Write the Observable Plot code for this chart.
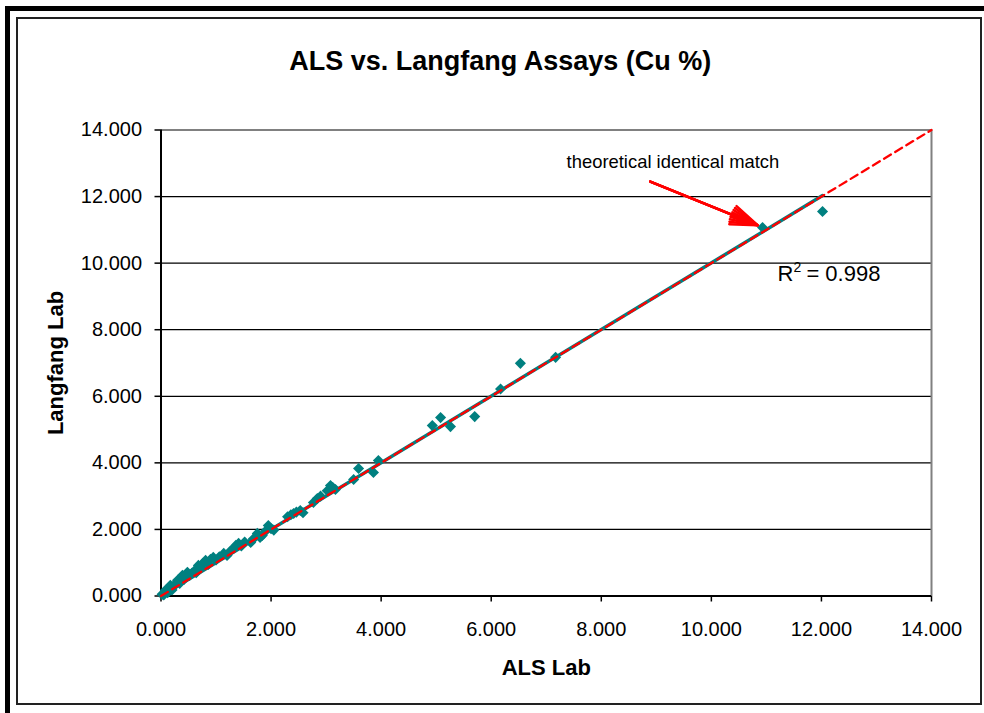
<!DOCTYPE html>
<html>
<head>
<meta charset="utf-8">
<script src="https://cdn.jsdelivr.net/npm/d3@7"></script>
<script src="https://cdn.jsdelivr.net/npm/@observablehq/plot@0.6"></script>
<style>
  html, body { margin: 0; padding: 0; background: #fff; }
  #wrap { position: relative; width: 984px; height: 713px; overflow: hidden; background: #fff; }
  #wrap svg { position: absolute; left: 0; top: 0; }
  .bar { position: absolute; background: #000; }
  #inner { position: absolute; left: 16px; top: 17px; width: 962px; height: 684px; border: 2px solid #222; }
</style>
</head>
<body>
<div id="wrap">
  <div id="chart"></div>
  <div class="bar" style="left:5px; top:6px; width:979px; height:5px;"></div>
  <div class="bar" style="left:5px; top:6px; width:5px; height:707px;"></div>
  <div id="inner"></div>
</div>
<script>
// ALS Lab assays (Cu %)
const als = [
  0.02, 0.05, 0.08, 0.12, 0.15, 0.17, 0.20, 0.24, 0.28, 0.30,
  0.34, 0.39, 0.42, 0.46, 0.48, 0.52, 0.56, 0.60, 0.64, 0.68,
  0.72, 0.76, 0.81, 0.86, 0.90, 0.95, 1.00, 1.06, 1.14, 1.20,
  1.26, 1.32, 1.36, 1.41, 1.46, 1.52, 1.63, 1.68, 1.75, 1.80,
  1.84, 1.90, 1.95, 2.00, 2.05, 2.30, 2.36, 2.41, 2.46, 2.53,
  2.58, 2.77, 2.84, 2.90, 3.02, 3.08, 3.12, 3.17, 3.50, 3.59,
  3.86, 3.95, 4.93, 5.08, 5.26, 5.70, 6.17, 6.53, 7.17, 10.93,
  12.02
];
// Langfang Lab assays (Cu %)
const langfang = [
  0.05, 0.03, 0.17, 0.10, 0.22, 0.32, 0.18, 0.30, 0.40, 0.47,
  0.38, 0.62, 0.50, 0.58, 0.71, 0.62, 0.68, 0.74, 0.70, 0.92,
  0.85, 0.98, 1.07, 0.95, 1.10, 1.16, 1.08, 1.18, 1.28, 1.22,
  1.35, 1.43, 1.52, 1.58, 1.50, 1.62, 1.61, 1.72, 1.88, 1.76,
  1.82, 1.95, 2.12, 2.02, 1.98, 2.38, 2.44, 2.48, 2.52, 2.57,
  2.50, 2.81, 2.93, 3.00, 3.16, 3.32, 3.26, 3.20, 3.50, 3.83,
  3.71, 4.07, 5.12, 5.36, 5.09, 5.39, 6.22, 6.99, 7.17, 11.07,
  11.55
];
// Linear trendline (as shown in the chart, R² = 0.998)
const trendX = [0, 12.02];
const trendY = [0.0, 12.03];
// Theoretical identical match line (y = x)
const identityX = [0, 14];
const identityY = [0, 14];
// Axis ticks
const tickValues = [0, 2, 4, 6, 8, 10, 12, 14];
// Annotations
const r2Pos = [11.2, 9.45];
const noteLabel = "theoretical identical match";
const notePos = [7.37, 12.87];
const arrowFrom = [8.89, 12.45];
const arrowTo = [10.84, 11.14];

const data = als.map((x, i) => ({als: x, langfang: langfang[i]}));
const trend = trendX.map((x, i) => ({x, y: trendY[i]}));
const identity = identityX.map((x, i) => ({x, y: identityY[i]}));
const fmt = d3.format(".3f");
const font = "'Liberation Sans', Arial, sans-serif";
const at = (p) => ({x: () => p[0], y: () => p[1]});

const chart = Plot.plot({
  width: 984,
  height: 713,
  marginLeft: 160.5,
  marginRight: 53,
  marginTop: 129.5,
  marginBottom: 117.5,
  style: {fontFamily: font, fontSize: "20px", background: "transparent", color: "#000", overflow: "visible"},
  x: {domain: [0, 14]},
  y: {domain: [0, 14]},
  marks: [
    Plot.ruleY(tickValues.filter(d => d > 0 && d < 14), {stroke: "#000", strokeWidth: 1.3}),
    Plot.ruleY([14], {stroke: "#808080", strokeWidth: 2}),
    Plot.ruleX([14], {stroke: "#808080", strokeWidth: 2}),
    Plot.axisX({ticks: tickValues, tickFormat: fmt, tickSize: 6, tickPadding: 20, label: null, fontSize: 20, strokeWidth: 1.5}),
    Plot.axisY({ticks: tickValues, tickFormat: fmt, tickSize: 6, tickPadding: 13, label: null, fontSize: 20, strokeWidth: 1.5}),
    Plot.ruleX([0], {stroke: "#000", strokeWidth: 2}),
    Plot.ruleY([0], {stroke: "#000", strokeWidth: 2}),
    Plot.dot(data, {x: "als", y: "langfang", symbol: "diamond2", r: 5, fill: "#008080", stroke: "none"}),
    Plot.line(trend, {x: "x", y: "y", stroke: "#008080", strokeWidth: 3.5}),
    Plot.line(identity, {x: "x", y: "y", stroke: "#ff0000", strokeWidth: 2.3, strokeDasharray: "8,5"}),
    ...[40, 30, 20, 10].map(a => Plot.arrow([{}], {
      x1: () => arrowFrom[0], y1: () => arrowFrom[1], x2: () => arrowTo[0], y2: () => arrowTo[1],
      stroke: "#ff0000", strokeWidth: 2.5, headLength: 17, headAngle: a
    })),
    Plot.text([noteLabel], {...at(notePos), text: d => d, textAnchor: "start", lineAnchor: "bottom", fontSize: 18.4, fill: "#000"}),
    Plot.text(["R"], {...at(r2Pos), text: d => d, textAnchor: "start", lineAnchor: "bottom", fontSize: 22, fill: "#000"}),
    Plot.text(["2"], {...at(r2Pos), text: d => d, dx: 16, dy: -9, textAnchor: "start", lineAnchor: "bottom", fontSize: 14, fill: "#000"}),
    Plot.text(["= 0.998"], {...at(r2Pos), text: d => d, dx: 29, textAnchor: "start", lineAnchor: "bottom", fontSize: 22, fill: "#000"}),
    Plot.text(["ALS vs. Langfang Assays (Cu %)"], {frameAnchor: "top", dx: -46, dy: -69, text: d => d, lineAnchor: "middle", fontSize: 27, fontWeight: "bold"}),
    Plot.text(["ALS Lab"], {frameAnchor: "bottom", dy: 72, text: d => d, lineAnchor: "middle", fontSize: 22, fontWeight: "bold"}),
    Plot.text(["Langfang Lab"], {frameAnchor: "left", dx: -105, rotate: -90, text: d => d, textAnchor: "middle", lineAnchor: "middle", fontSize: 22, fontWeight: "bold"})
  ]
});
document.getElementById("chart").appendChild(chart);
</script>
</body>
</html>
